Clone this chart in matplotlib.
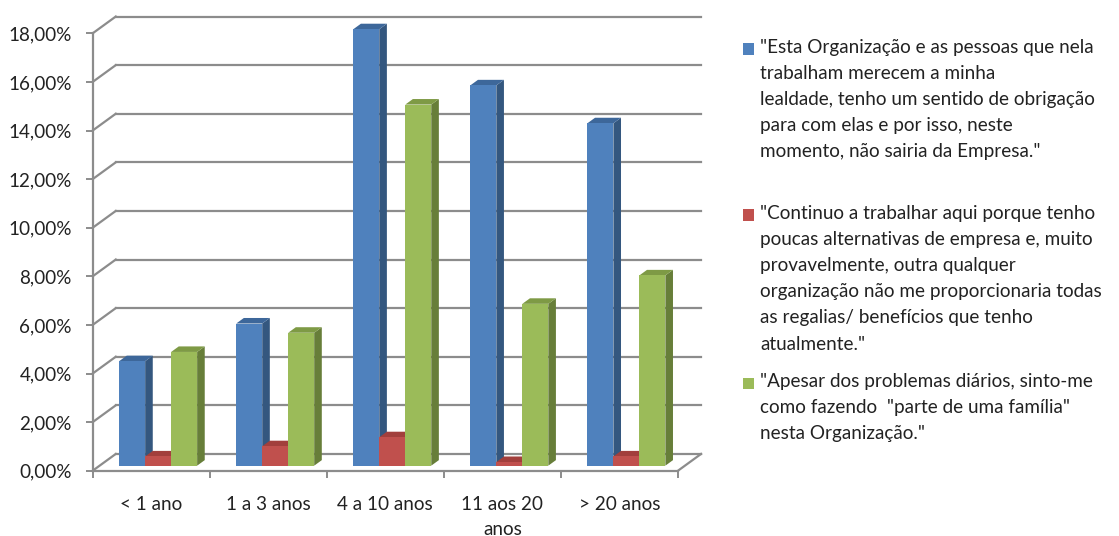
import numpy as np
import matplotlib.pyplot as plt
from matplotlib.patches import Polygon, Rectangle

# -------------------------------
# DATA
# -------------------------------

categorias = ["< 1 ano", "1 a 3 anos", "4 a 10 anos", "11 aos 20\nanos", "> 20 anos"]

lealdade = [4.30, 5.85, 17.96, 15.65, 14.09]      # blue
alternativas = [0.38, 0.80, 1.17, 0.15, 0.38]    # red
familia = [4.68, 5.47, 14.86, 6.66, 7.83]        # green

legendas = [
    "\"Esta Organização e as pessoas que nela\ntrabalham merecem a minha\n"
    "lealdade, tenho um sentido de obrigação\npara com elas e por isso, neste\n"
    "momento, não sairia da Empresa.\"",
    "\"Continuo a trabalhar aqui porque tenho\npoucas alternativas de empresa e, muito\n"
    "provavelmente, outra qualquer\norganização não me proporcionaria todas\n"
    "as regalias/ benefícios que tenho\natualmente.\"",
    "\"Apesar dos problemas diários, sinto-me\ncomo fazendo  \"parte de uma família\"\n"
    "nesta Organização.\"",
]

yticks = np.arange(0, 19, 2)

# -------------------------------
# STYLE
# -------------------------------

# front / side / top shades for each series
CORES = [
    ("#4F81BD", "#34577F", "#3D679A"),
    ("#C0504D", "#8B3533", "#A23F3C"),
    ("#9BBB59", "#677E39", "#7E9A45"),
]
GRID = "#8C8C8C"
TXT = "#222222"
FS = 13.6

# 3D look: offset of the back wall (in data units)
DX, DY = 0.197, 0.69
Z0 = 0.30      # depth of the bar front faces
DEPTH = 0.33   # depth of the bars
W = 0.222      # bar width
X0 = 0.167     # first bar offset inside a category

plt.rcParams["font.family"] = ["Lato", "DejaVu Sans"]

W_PX, H_PX = 1119, 536
fig = plt.figure(figsize=(W_PX / 100, H_PX / 100), dpi=100)

left, right = 92.7, 678.0
y0_px, y18_px = 470.7, 33.3
ax = fig.add_axes([left / W_PX, (H_PX - y0_px) / H_PX,
                   (right - left) / W_PX, (y0_px - y18_px) / H_PX])
ax.set_xlim(0, 5)
ax.set_ylim(0, 18)
ax.patch.set_visible(False)

# -------------------------------
# back wall + floor
# -------------------------------

n = len(categorias)
for v in yticks:
    ax.plot([DX, n + DX], [v + DY, v + DY], color=GRID, lw=1.6, clip_on=False, zorder=1)
    ax.plot([0, DX], [v, v + DY], color=GRID, lw=1.6, clip_on=False, zorder=1)
ax.plot([n, n + DX], [0, DY], color=GRID, lw=1.6, clip_on=False, zorder=1)

# -------------------------------
# bars
# -------------------------------

series = [lealdade, alternativas, familia]
for i in range(n):
    for j, vals in enumerate(series):
        front, side, top = CORES[j]
        v = vals[i]
        xl = i + X0 + j * W + Z0 * DX
        b = Z0 * DY
        xr = xl + W
        t = b + v
        ddx, ddy = DEPTH * DX, DEPTH * DY
        z = 3 + i * 3 + j
        ax.add_patch(Polygon([(xr, b), (xr + ddx, b + ddy), (xr + ddx, t + ddy), (xr, t)],
                             closed=True, facecolor=side, edgecolor="none",
                             clip_on=False, zorder=z))
        ax.add_patch(Polygon([(xl, t), (xr, t), (xr + ddx, t + ddy), (xl + ddx, t + ddy)],
                             closed=True, facecolor=top, edgecolor="none",
                             clip_on=False, zorder=z))
        ax.bar(xl, v, width=W, bottom=b, align="edge", color=front,
               edgecolor="none", clip_on=False, zorder=z)

# -------------------------------
# axes
# -------------------------------

for s in ["top", "right"]:
    ax.spines[s].set_visible(False)
for s in ["left", "bottom"]:
    ax.spines[s].set_color(GRID)
    ax.spines[s].set_linewidth(1.6)

ax.set_yticks(yticks)
ax.set_yticklabels([f"{v:.2f}%".replace(".", ",") for v in yticks])
ax.tick_params(axis="y", direction="out", length=5, width=1.4, color=GRID,
               labelsize=FS, labelcolor=TXT, pad=10)

ax.set_xticks(np.arange(n + 1))
ax.set_xticklabels([])
ax.set_xticks(np.arange(n) + 0.5, minor=True)
ax.set_xticklabels(categorias, minor=True)
ax.tick_params(axis="x", which="major", direction="out", length=5, width=1.4, color=GRID)
ax.tick_params(axis="x", which="minor", length=0, labelsize=FS,
               labelcolor=TXT, pad=18)
for lab in ax.get_xticklabels(minor=True):
    lab.set_linespacing(1.6)

# -------------------------------
# legend
# -------------------------------

firsts = [49, 215, 383]   # centre of each entry's first line, px from top
for k, txt in enumerate(legendas):
    yc = firsts[k]
    fig.patches.append(Rectangle((743 / W_PX, (H_PX - yc - 5.5) / H_PX), 11 / W_PX, 11 / H_PX,
                                 transform=fig.transFigure, facecolor=CORES[k][0],
                                 edgecolor="none"))
    fig.text(760.5 / W_PX, (H_PX - yc + 10) / H_PX, txt, ha="left", va="top",
             fontsize=FS, color=TXT, linespacing=1.65)

fig.savefig("out.png", dpi=100)
